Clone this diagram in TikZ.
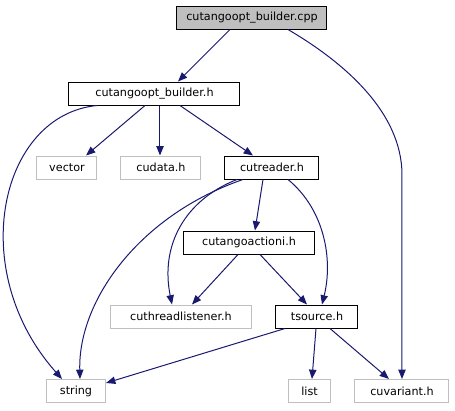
\documentclass[tikz,border=0pt]{standalone}
\usepackage{fontspec}
\setmainfont{DejaVu Sans}
\usetikzlibrary{arrows.meta,calc}
\definecolor{edgeblue}{HTML}{191970}
\definecolor{sysgray}{HTML}{BFBFBF}
\begin{document}
\begin{tikzpicture}[x=0.75pt,y=-0.75pt,
  file/.style={draw=black,line width=0.75pt,minimum height=17.25pt,inner sep=0pt,
    font=\fontsize{8.4}{10}\selectfont},
  sysfile/.style={file,draw=sysgray},
  edge/.style={draw=edgeblue,line width=0.75pt,-{Triangle[length=7pt,width=5.5pt]}}]
\useasboundingbox (0,0) rectangle (455,411);
\node[file,fill=sysgray,minimum width=112.5pt] (cpp) at (252,17.5) {cutangoopt\_builder.cpp};
\node[file,minimum width=128.25pt] (bh) at (154.5,93.5) {cutangoopt\_builder.h};
\node[sysfile,minimum width=45pt] (vec) at (67,167.5) {vector};
\node[sysfile,minimum width=60pt] (cud) at (161,167.5) {cudata.h};
\node[file,minimum width=70.5pt] (rdr) at (272,167.5) {cutreader.h};
\node[file,minimum width=98.25pt] (act) at (249,242.5) {cutangoactioni.h};
\node[sysfile,minimum width=105.75pt] (lst) at (181,316.5) {cuthreadlistener.h};
\node[file,minimum width=61.5pt] (src) at (317,316.5) {tsource.h};
\node[sysfile,minimum width=44.25pt] (str) at (76,391) {string};
\node[sysfile,minimum width=31.5pt] (lis) at (309.5,391) {list};
\node[sysfile,minimum width=70.5pt] (cuv) at (402,391) {cuvariant.h};

\draw[edge] ($(cpp.south)+(-22,0)$) -- ($(bh.north)+(23.5,0)$);
\draw[edge] ($(cpp.south)+(36,0)$) .. controls (340,60) and (402,110) .. (402,175) -- (cuv.north);
\draw[edge] ($(bh.south)+(-57.5,0)$) .. controls (0,115) and (-35,270) .. ($(str.north)+(-14,0)$);
\draw[edge] ($(bh.south)+(-9.5,0)$) -- ($(vec.north)+(19,0)$);
\draw[edge] ($(bh.south)+(5.5,0)$) -- ($(cud.north)+(-1,0)$);
\draw[edge] ($(bh.south)+(25.5,0)$) -- ($(rdr.north)+(-19,0)$);
\draw[edge] ($(rdr.south)+(-29,0)$) .. controls (140,215) and (78,300) .. ($(str.north)+(4,0)$);
\draw[edge] ($(rdr.south)+(-35,0)$) .. controls (185,200) and (160,245) .. ($(lst.north)+(-9,0)$);
\draw[edge] ($(rdr.south)+(-9,0)$) -- ($(act.north)+(6,0)$);
\draw[edge] ($(rdr.south)+(16,0)$) .. controls (325,210) and (333,260) .. ($(src.north)+(5,0)$);
\draw[edge] ($(act.south)+(-11,0)$) -- ($(lst.north)+(11,0)$);
\draw[edge] ($(act.south)+(11,0)$) -- ($(src.north)+(-10,0)$);
\draw[edge] ($(src.south)+(-32,0)$) -- ($(str.east)+(0,-8)$);
\draw[edge] ($(src.south)+(-1,0)$) -- ($(lis.north)+(2.5,0)$);
\draw[edge] ($(src.south)+(13,0)$) -- ($(cuv.north)+(-13,0)$);
\end{tikzpicture}
\end{document}
